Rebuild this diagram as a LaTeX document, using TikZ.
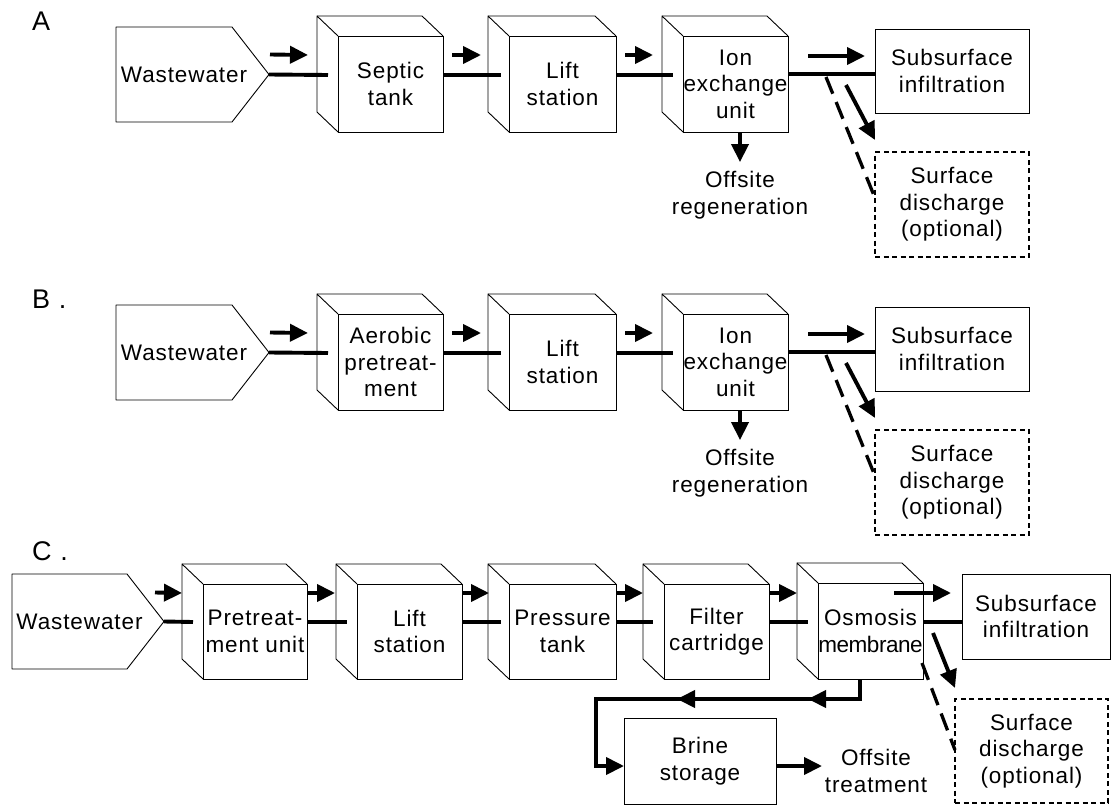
\documentclass[tikz,border=0pt]{standalone}
\usepackage{fontspec}
\setmainfont{Liberation Sans}[LetterSpace=4]
\usetikzlibrary{arrows.meta,calc}
\tikzset{
  box/.style={draw, line width=0.9pt, fill=white, align=center, inner sep=0pt, outer sep=0pt},
  dbox/.style={box, line width=1.3pt, dash pattern=on 5pt off 3.5pt},
  cubeedge/.style={line width=0.9pt, line join=round},
  pipe/.style={line width=3.9pt},
  flow/.style={line width=3.9pt, -{Triangle[length=18pt,width=17pt]}},
  dashpipe/.style={line width=3.3pt, dash pattern=on 18pt off 9pt},
  lbl/.style={align=center, inner sep=0pt},
  rowlbl/.style={inner sep=0pt, anchor=west, font=\fontsize{27}{30}\selectfont},
}
\newcommand{\mycube}[6]{%
  \node[box, minimum width=#4, minimum height=#5, anchor=north west] (#1) at (#2,#3) {#6};
  \draw[cubeedge] (#1.north west) -- ++(-21,-20) -- ++(0,#5) -- (#1.south west);
  \draw[cubeedge] (#1.north west) ++(-21,-20) -- ($(#1.north east)+(-21,-20)$) -- (#1.north east);
}
% name, left, top, body right, tip, bottom
\newcommand{\myww}[6]{%
  \draw[cubeedge] (#2,#3) -- (#4,#3) -- (#5,{(#3+#6)/2}) -- (#4,#6) -- (#2,#6) -- cycle;
  \coordinate (#1tip) at (#5,{(#3+#6)/2});
  \node[lbl] (#1) at ({(#2+#4)/2+10},{(#3+#6)/2}) {Wastewater};
}
% prefix, dy, label, second unit text
\newcommand{\rowAB}[4]{%
  \node[rowlbl] (#1lab) at (32,21+#2) {#3};
  \myww{#1ww}{116}{27+#2}{232}{269}{122+#2}
  \mycube{#1c1}{338}{36+#2}{105}{96}{#4}
  \mycube{#1c2}{509}{36+#2}{107}{96}{Lift\\station}
  \mycube{#1c3}{683}{36+#2}{105}{96}{Ion\\exchange\\unit}
  \node[box, minimum width=154, minimum height=84, anchor=north west] (#1sub) at (875,29+#2) {Subsurface\\infiltration};
  \node[dbox, minimum width=154, minimum height=105, anchor=north west] (#1surf) at (875,152+#2) {Surface\\discharge\\(optional)};
  \node[lbl] (#1off) at (740,195+#2) {Offsite\\regeneration};
  \draw[pipe] (#1wwtip) -- ($(#1c1.north west)+(-10,39)$);
  \draw[flow] ($(#1wwtip)+(1,-20)$) -- ($(#1c1.north west)+(-30,19)$);
  \draw[pipe] ($(#1c1.north east)+(0,39)$) -- ($(#1c2.north west)+(-8,39)$);
  \draw[flow] ($(#1c1.north east)+(9,19)$) -- ($(#1c2.north west)+(-28,19)$);
  \draw[pipe] ($(#1c2.north east)+(0,39)$) -- ($(#1c3.north west)+(-10,39)$);
  \draw[flow] ($(#1c2.north east)+(9,19)$) -- ($(#1c3.north west)+(-30,19)$);
  \draw[pipe] ($(#1c3.north east)+(0,38)$) -- ($(#1sub.north west)+(0,45)$);
  \draw[flow] ($(#1c3.north east)+(20,20)$) -- ($(#1sub.north west)+(-10,27)$);
  \draw[flow] ($(#1c3.north east)+(58,49)$) -- ($(#1sub.south west)+(0,27)$);
  \draw[dashpipe] ($(#1c3.north east)+(38,41)$) -- ($(#1surf.north west)+(0,46)$);
  \draw[flow, shorten >=9pt] ($(#1c3.south)+(4.5,0)$) -- (#1off.north -| {$(#1c3.south)+(4.5,0)$});
}
\begin{document}
\begin{tikzpicture}[x=1pt, y=-1pt, font=\fontsize{22.5}{26.5}\selectfont]
\useasboundingbox (0,0) rectangle (1112,806);

\rowAB{A}{0}{A}{Septic\\tank}
\rowAB{B}{278}{B .}{Aerobic\\pretreat-\\ment}

% Row C
\node[rowlbl] (Clab) at (32,551) {C .};
\myww{Cww}{12}{574}{127}{164}{669}
\mycube{C1}{203}{584}{104}{95}{Pretreat-\\ment unit}
\mycube{C2}{357}{584}{105}{95}{Lift\\station}
\mycube{C3}{509}{584}{107}{95}{Pressure\\tank}
\mycube{C4}{664}{584}{105}{95}{Filter\\cartridge}
\mycube{C5}{818}{583}{105}{96}{Osmosis\\{\addfontfeatures{LetterSpace=-2}membrane}}
\node[box, minimum width=148, minimum height=85, anchor=north west] (Csub) at (962,574) {Subsurface\\infiltration};
\node[dbox, minimum width=153, minimum height=104, anchor=north west] (Csurf) at (955,699) {Surface\\discharge\\(optional)};
\node[box, minimum width=152, minimum height=86, anchor=north west] (Cbrine) at (624,718) {Brine\\storage};
\node[lbl] (Coff) at (876,771) {Offsite\\treatment};

\draw[pipe] (Cwwtip) -- ($(C1.north west)+(-10,38)$);
\draw[flow] ($(Cwwtip)+(-9,-29)$) -- ($(C1.north west)+(-21,9)$);
\draw[pipe] ($(C1.north east)+(0,38)$) -- ($(C2.north west)+(-10,38)$);
\draw[flow] ($(C1.north east)+(0,9)$) -- ($(C2.north west)+(-22,9)$);
\draw[pipe] ($(C2.north east)+(0,38)$) -- ($(C3.north west)+(-8,38)$);
\draw[flow] ($(C2.north east)+(0,9)$) -- ($(C3.north west)+(-20,9)$);
\draw[pipe] ($(C3.north east)+(0,38)$) -- ($(C4.north west)+(-11,38)$);
\draw[flow] ($(C3.north east)+(0,9)$) -- ($(C4.north west)+(-21,9)$);
\draw[pipe] ($(C4.north east)+(0,38)$) -- ($(C5.north west)+(-10,39)$);
\draw[flow] ($(C4.north east)+(0,9)$) -- ($(C5.north west)+(-21,10)$);
\draw[pipe] ($(C5.north east)+(0,39)$) -- ($(Csub.north west)+(0,48)$);
\draw[flow] ($(C5.north east)+(-29,10)$) -- ($(Csub.north west)+(-11,19)$);
\draw[flow] ($(C5.north east)+(10,50)$) -- ($(Csurf.north west)+(0,-11)$);
\draw[dashpipe] ($(C5.north east)+(-1,80)$) -- ($(Csurf.north west)+(0,51)$);

\coordinate (Cbend) at ($(C5.south)+(-10.5,20)$);
\draw[pipe, line join=miter, -{Triangle[length=18pt,width=17pt]}] ($(C5.south)+(-10.5,0)$) -- (Cbend) -| ($(Cbrine.west)+(-28,5)$) -- ($(Cbrine.west)+(0,5)$);
\draw[flow] ($(Cbend)+(-30,0)$) -- ($(Cbend)+(-52,0)$);
\draw[flow] ($(Cbend)+(-161,0)$) -- ($(Cbend)+(-183,0)$);
\draw[flow] ($(Cbrine.east)+(0,5)$) -- ($(Cbrine.east)+(46,5)$);
\end{tikzpicture}
\end{document}
